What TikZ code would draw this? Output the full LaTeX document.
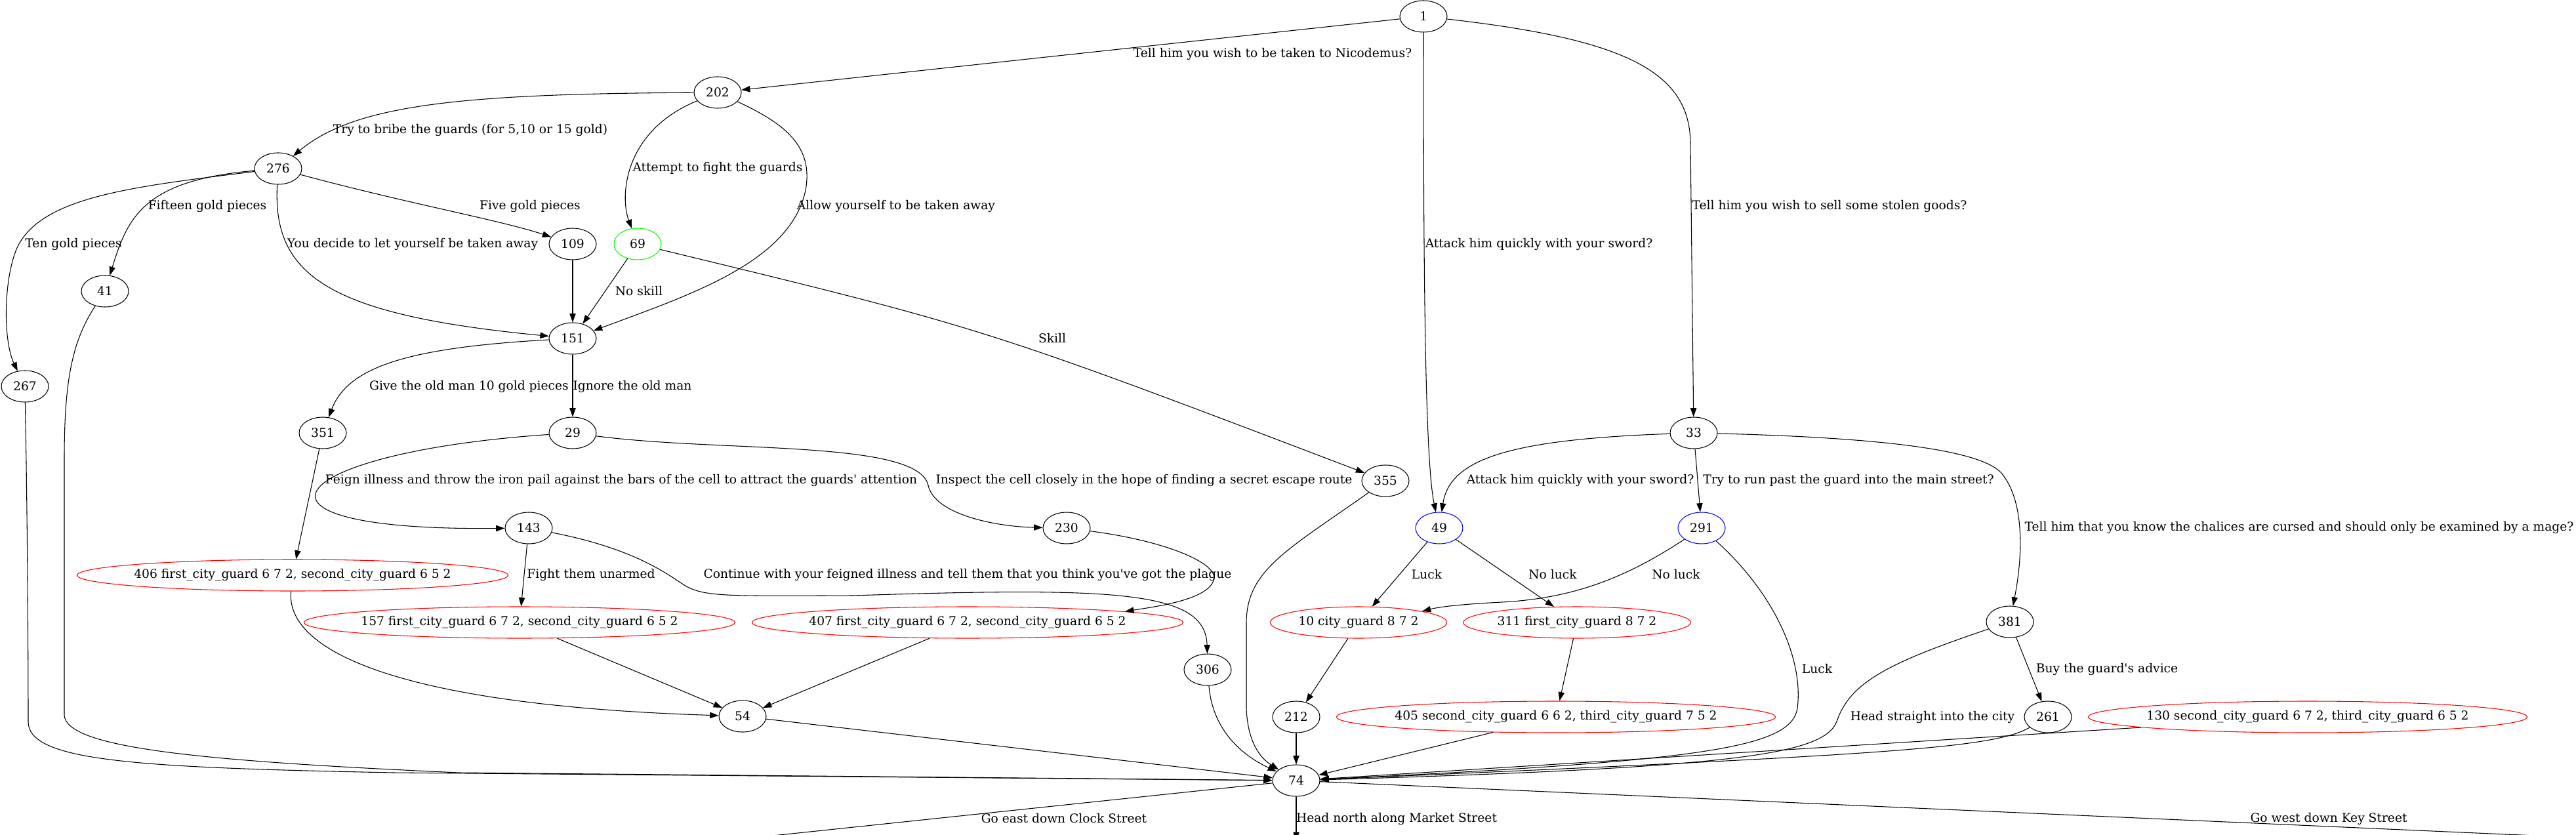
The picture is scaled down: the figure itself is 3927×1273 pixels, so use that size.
\documentclass[tikz,border=0pt]{standalone}
\usepackage{fontspec}
\setmainfont{DejaVu Serif}
\usetikzlibrary{arrows.meta, shapes.geometric}

\tikzstyle{passage}=[ellipse, draw, line width=0.8pt,
                     inner sep=0.1cm, minimum width=54pt, minimum height=36pt]
\tikzstyle{combat}=[passage, draw=red, inner xsep=-50pt]
\tikzstyle{luck}=[passage, draw=blue]
\tikzstyle{skill}=[passage, draw=green]
\tikzstyle{choice}=[-{Triangle[length=10pt, width=7pt]}, line width=0.8pt]
\tikzstyle{choicetext}=[inner sep=0pt]

\begin{document}
\begin{tikzpicture}[x=0.75pt, y=-0.75pt, font=\fontsize{14}{17}\selectfont]

\useasboundingbox (0,0) rectangle (3927,1273);
\clip (0,0) rectangle (3927,1273);

%%%%%%%%%%%%%%%%%%%%%%%%%%%%%%
% nodes

% gate
\node (s1) at (2170, 25) [passage] {1};
\node (s202) at (1094, 141) [passage] {202};
\node (s276) at (424, 257) [passage] {276};
\node (s109) at (873, 372) [passage] {109};
\node (s69) at (972, 372) [skill] {69};
\node (s41) at (160, 444) [passage] {41};
\node (s151) at (873, 516) [passage] {151};
\node (s267) at (38, 589) [passage] {267};

% cell
\node (s351) at (492, 660) [passage] {351};
\node (s29) at (873, 660) [passage] {29};
\node (s143) at (806, 805) [passage] {143};
\node (s230) at (1626, 805) [passage] {230};
\node (s306) at (1841, 1021) [passage] {306};
\node (s54) at (1132, 1092) [passage] {54};

\node (s406) at (446, 877) [combat, minimum width=493pt] {406 first\_city\_guard 6 7 2, second\_city\_guard 6 5 2};
\node (s157) at (792, 949) [combat, minimum width=493pt] {157 first\_city\_guard 6 7 2, second\_city\_guard 6 5 2};
\node (s407) at (1475, 949) [combat, minimum width=493pt] {407 first\_city\_guard 6 7 2, second\_city\_guard 6 5 2};

% market
\node (s355) at (2112, 733) [passage] {355};
\node (s33) at (2582, 660) [passage] {33};
\node (s49) at (2194, 805) [luck] {49};
\node (s291) at (2594, 805) [luck] {291};
\node (s381) at (3064, 948) [passage] {381};
\node (s212) at (1976, 1093) [passage] {212};
\node (s261) at (3122, 1093) [passage] {261};
\node (s74) at (1976, 1190) [passage] {74};

\node (s10) at (2071, 949) [combat, minimum width=202pt] {10 city\_guard 8 7 2};
\node (s311) at (2404, 949) [combat, minimum width=260pt] {311 first\_city\_guard 8 7 2};
\node (s405) at (2372, 1093) [combat, minimum width=502pt] {405 second\_city\_guard 6 6 2, third\_city\_guard 7 5 2};
\node (s130) at (3518, 1093) [combat, minimum width=502pt] {130 second\_city\_guard 6 7 2, third\_city\_guard 6 5 2};

% way out
\coordinate (east) at (1102, 1282);
\coordinate (north) at (1976, 1282);
\coordinate (west) at (4000, 1280);

%%%%%%%%%%%%%%%%%%%%%%%%%%%%%%
% labels

\node (t_1_202) at (1940, 82) [choicetext] {Tell him you wish to be taken to Nicodemus?};
\node (t_1_49) at (2346, 372) [choicetext] {Attack him quickly with your sword?};
\node (t_1_33) at (2789, 314) [choicetext] {Tell him you wish to sell some stolen goods?};
\node (t_202_276) at (717, 198) [choicetext] {Try to bribe the guards (for 5,10 or 15 gold)};
\node (t_202_69) at (1094, 256) [choicetext] {Attempt to fight the guards};
\node (t_202_151) at (1366, 314) [choicetext] {Allow yourself to be taken away};
\node (t_276_41) at (316, 314) [choicetext] {Fifteen gold pieces};
\node (t_276_109) at (808, 314) [choicetext] {Five gold pieces};
\node (t_276_267) at (112, 372) [choicetext] {Ten gold pieces};
\node (t_276_151) at (629, 372) [choicetext] {You decide to let yourself be taken away};
\node (t_69_151) at (974, 444) [choicetext] {No skill};
\node (t_69_355) at (1604, 516) [choicetext] {Skill};
\node (t_151_351) at (715, 589) [choicetext] {Give the old man 10 gold pieces};
\node (t_151_29) at (964, 589) [choicetext] {Ignore the old man};
\node (t_29_143) at (947, 732) [choicetext] {Feign illness and throw the iron pail against the bars of the cell to attract the guards\textquotesingle\ attention};
\node (t_29_230) at (1744, 732) [choicetext] {Inspect the cell closely in the hope of finding a secret escape route};
\node (t_33_49) at (2409, 732) [choicetext] {Attack him quickly with your sword?};
\node (t_33_291) at (2818, 732) [choicetext] {Try to run past the guard into the main street?};
\node (t_33_381) at (3505, 804) [choicetext] {Tell him that you know the chalices are cursed and should only be examined by a mage?};
\node (t_143_157) at (901, 876) [choicetext] {Fight them unarmed};
\node (t_143_306) at (1475, 876) [choicetext] {Continue with your feigned illness and tell them that you think you\textquotesingle ve got the plague};
\node (t_49_10) at (2175, 876) [choicetext] {Luck};
\node (t_49_311) at (2367, 876) [choicetext] {No luck};
\node (t_291_10) at (2555, 876) [choicetext] {No luck};
\node (t_291_74) at (2770, 1020) [choicetext] {Luck};
\node (t_381_261) at (3212, 1020) [choicetext] {Buy the guard\textquotesingle s advice};
\node (t_381_74) at (2946, 1093) [choicetext] {Head straight into the city};
\node (t_74_east) at (1622, 1248) [choicetext] {Go east down Clock Street};
\node (t_74_north) at (2129, 1248) [choicetext] {Head north along Market Street};
\node (t_74_west) at (3550, 1248) [choicetext] {Go west down Key Street};

%%%%%%%%%%%%%%%%%%%%%%%%%%%%%%
% links

% gate
\draw [choice] (s1) -- (s202);
\draw [choice] (s1) .. controls (2170, 400) and (2172, 700) .. (s49);
\draw [choice] (s1) .. controls (2480, 60) and (2577, 110) .. (2577, 220) -- (s33);

\draw [choice] (s202) .. controls (700, 143) and (540, 160) .. (s276);
\draw [choice] (s202) .. controls (950, 200) and (945, 300) .. (s69);
\draw [choice] (s202) .. controls (1200, 190) and (1240, 225) .. (1228, 290) .. controls (1205, 400) and (1050, 450) .. (s151);

\draw [choice] (s276) .. controls (200, 285) and (60, 300) .. (25, 380) .. controls (5, 430) and (5, 520) .. (s267);
\draw [choice] (s276) .. controls (220, 275) and (195, 330) .. (s41);
\draw [choice] (s276) .. controls (620, 310) and (760, 335) .. (s109);
\draw [choice] (s276) .. controls (415, 420) and (500, 480) .. (s151);

\draw [choice] (s109) -- (s151);
\draw [choice] (s69) -- (s151);
\draw [choice] (s69) .. controls (1500, 500) .. (s355);

% cell
\draw [choice] (s151) .. controls (620, 530) and (530, 560) .. (s351);
\draw [choice] (s151) -- (s29);

\draw [choice] (s29) .. controls (430, 690) and (330, 810) .. (s143);
\draw [choice] (s29) .. controls (1100, 690) and (1400, 670) .. (1415, 740) .. controls (1425, 785) and (1520, 803) .. (s230);

\draw [choice] (s143) -- (s157);
\draw [choice] (s143) .. controls (960, 835) and (1010, 870) .. (1040, 890) .. controls (1070, 910) and (1100, 909) .. (1300, 908) .. controls (1700, 895) and (1838, 900) .. (s306);
\draw [choice] (s230) .. controls (1780, 825) and (1860, 860) .. (1850, 885) .. controls (1840, 915) and (1760, 925) .. (s407.4);

\draw [choice] (s351) -- (s406);
\draw [choice] (s406) .. controls (435, 990) and (600, 1075) .. (s54);
\draw [choice] (s157) -- (s54);
\draw [choice] (s407) -- (s54);

% market
\draw [choice] (s33) .. controls (2300, 670) and (2210, 700) .. (s49);
\draw [choice] (s33) -- (s291);
\draw [choice] (s33) .. controls (2900, 668) and (3020, 690) .. (3050, 720) .. controls (3085, 760) and (3085, 840) .. (s381);

\draw [choice] (s49) -- (s10);
\draw [choice] (s49) -- (s311);
\draw [choice] (s291) .. controls (2480, 880) and (2400, 912) .. (2290, 918) .. controls (2230, 921) and (2195, 925) .. (s10.10);

\draw [choice] (s10) -- (s212);
\draw [choice] (s311) -- (s405);
\draw [choice] (s381) -- (s261);

% into 74
\draw [choice] (s267) .. controls (42, 800) and (43, 1000) .. (43, 1100) .. controls (43, 1160) and (200, 1170) .. (600, 1178) -- (s74);
\draw [choice] (s41) .. controls (110, 520) and (98, 580) .. (98, 700) -- (98, 1090) .. controls (100, 1140) and (300, 1160) .. (700, 1178) -- (s74);
\draw [choice] (s54) -- (s74);
\draw [choice] (s306) .. controls (1848, 1110) and (1890, 1150) .. (s74);
\draw [choice] (s355) .. controls (1960, 840) and (1900, 870) .. (1900, 950) -- (1900, 1080) .. controls (1902, 1130) and (1920, 1155) .. (s74);
\draw [choice] (s212) -- (s74);
\draw [choice] (s405) -- (s74);
\draw [choice] (s291) .. controls (2700, 900) and (2750, 1000) .. (2740, 1080) .. controls (2730, 1140) and (2600, 1160) .. (s74);
\draw [choice] (s381) .. controls (2880, 1010) and (2820, 1040) .. (2800, 1100) .. controls (2780, 1150) and (2650, 1170) .. (s74);
\draw [choice] (s261) .. controls (3040, 1140) and (2900, 1150) .. (s74);
\draw [choice] (s130) -- (s74);

% way out
\draw [choice] (s74) -- (east);
\draw [choice] (s74) -- (north);
\draw [choice] (s74) -- (west);

\end{tikzpicture}
\end{document}
